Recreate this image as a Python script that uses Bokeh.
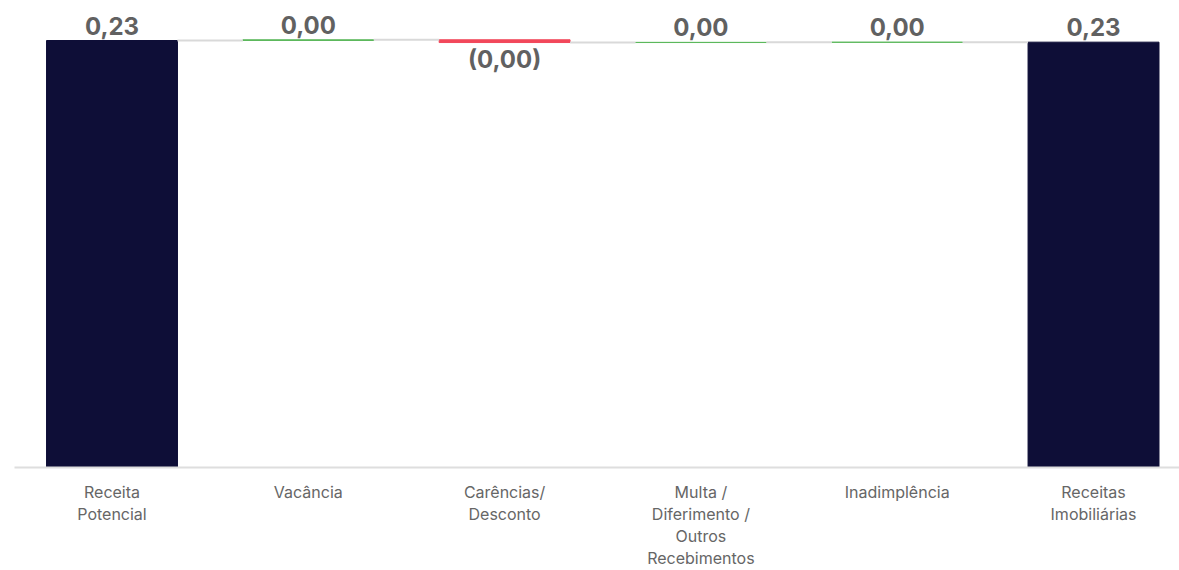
from bokeh.plotting import figure
from bokeh.models import Range1d, FixedTicker, ColumnDataSource
from bokeh.core.properties import value
from bokeh.embed import file_html
from bokeh.resources import INLINE

# Waterfall: revenue bridge (R$ millions)
categories = ["Receita Potencial", "Vacância", "Carências/ Desconto",
              "Multa / Diferimento / Outros Recebimentos", "Inadimplência",
              "Receitas Imobiliárias"]
tick_labels = ["Receita\nPotencial", "Vacância", "Carências/\nDesconto",
               "Multa /\nDiferimento /\nOutros\nRecebimentos", "Inadimplência",
               "Receitas\nImobiliárias"]
start_value = 0.2316
deltas = [0.0004, -0.0015, 0.0001, 0.0001]

NAVY = "#0e0e37"
GREEN = "#5cb85c"
RED = "#f2475a"
GREY_TXT = "#616161"
CONNECTOR = "#d9d9d9"

# build bottoms/tops for every step
n = len(categories)
xs = list(range(n))
bottoms, tops, colors = [], [], []
level = start_value
bottoms.append(0.0); tops.append(start_value); colors.append(NAVY)
for d in deltas:
    new = level + d
    bottoms.append(min(level, new)); tops.append(max(level, new))
    colors.append(GREEN if d >= 0 else RED)
    level = new
end_value = level
bottoms.append(0.0); tops.append(end_value); colors.append(NAVY)
step_values = [start_value] + deltas + [end_value]


def fmt(v):
    s = f"{abs(v):.2f}".replace(".", ",")
    return f"({s})" if v < 0 else s


labels = [fmt(v) for v in step_values]

src = ColumnDataSource(dict(x=xs, bottom=bottoms, top=tops, color=colors))

p = figure(width=1179, height=570, output_backend="svg", toolbar_location=None,
           x_range=Range1d(-0.4967, 5.438), y_range=Range1d(0, 0.2533),
           min_border_left=14, min_border_right=0, min_border_top=0,
           min_border_bottom=103)
p.outline_line_color = None
p.grid.visible = False
p.yaxis.visible = False
p.background_fill_color = "white"
p.border_fill_color = "white"

bar_w = 0.667
p.vbar(x="x", bottom="bottom", top="top", width=bar_w, fill_color="color",
       line_color="color", line_width=1, source=src)

# connector lines between consecutive steps
levels = [start_value]
for d in deltas:
    levels.append(levels[-1] + d)
cx0 = [i + bar_w / 2 for i in range(n - 1)]
cx1 = [i + 1 - bar_w / 2 for i in range(n - 1)]
cy = levels[:n - 1]
p.segment(x0=cx0, y0=cy, x1=cx1, y1=cy, line_color=CONNECTOR, line_width=2)

# value labels: above for non-negative steps, below for negative steps
pos_x = [x for x, v in zip(xs, step_values) if v >= 0]
pos_y = [t for t, v in zip(tops, step_values) if v >= 0]
pos_t = [l for l, v in zip(labels, step_values) if v >= 0]
neg_x = [x for x, v in zip(xs, step_values) if v < 0]
neg_y = [b for b, v in zip(bottoms, step_values) if v < 0]
neg_t = [l for l, v in zip(labels, step_values) if v < 0]
p.text(x=pos_x, y=pos_y, text=pos_t, text_align="center",
       text_baseline="alphabetic", y_offset=-15, text_font=value("Inter"),
       text_font_style="bold", text_font_size="24px", text_color=GREY_TXT)
p.text(x=neg_x, y=neg_y, text=neg_t, text_align="center",
       text_baseline="alphabetic", y_offset=17, text_font=value("Inter"),
       text_font_style="bold", text_font_size="24px", text_color=GREY_TXT)

ax = p.xaxis[0]
ax.ticker = FixedTicker(ticks=xs)
ax.major_label_overrides = {i: t for i, t in enumerate(tick_labels)}
ax.major_tick_line_color = None
ax.minor_tick_line_color = None
ax.major_tick_out = 0
ax.major_tick_in = 0
ax.axis_line_color = "#dedede"
ax.axis_line_width = 2
ax.major_label_standoff = 14
ax.major_label_text_font = "Inter"
ax.major_label_text_font_size = "16px"
ax.major_label_text_color = "#666666"
ax.major_label_text_line_height = 1.1

open("out.html", "w").write(file_html(p, INLINE))
